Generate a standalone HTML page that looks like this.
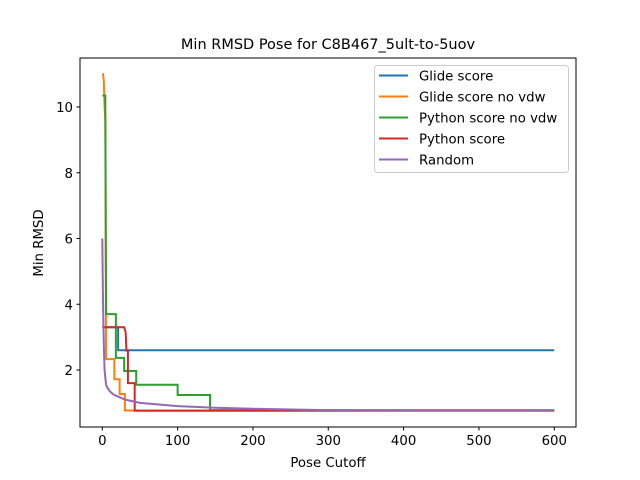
<!DOCTYPE html>
<html><head><meta charset="utf-8"><style>
body{margin:0;background:#fff}
svg{display:block;font-family:"DejaVu Sans","Liberation Sans",sans-serif}
</style></head><body>
<svg id="chart" width="640" height="480">
<rect x="0" y="0" width="640" height="480" fill="#fff"/>
<text x="328" y="49" text-anchor="middle" font-size="14.5">Min RMSD Pose for C8B467_5ult-to-5uov</text>
<g id="plot"></g>
<rect x="80" y="58" width="496" height="369" fill="none" stroke="#000" stroke-width="1"/>
<g id="ticks"></g>
<text x="328" y="467" text-anchor="middle" font-size="13.3">Pose Cutoff</text>
<text x="43" y="243" text-anchor="middle" font-size="13.3" transform="rotate(-90 43 243)">Min RMSD</text>
<g id="legend"></g>
</svg>
<script>
const xTicks=[0,100,200,300,400,500,600];
const yTicks=[2,4,6,8,10];
const seriesNames=["Glide score","Glide score no vdw","Python score no vdw","Python score","Random"];
const seriesColors=["#1f77b4","#ff7f0e","#2ca02c","#d62728","#9467bd"];
const glideX=[0,21,21,600];
const glideY=[3.3,3.3,2.6,2.6];
const glideNoVdwX=[0,1,2,3,4,5,16,16,23,23,30,30,600];
const glideNoVdwY=[11,11,10.8,10.0,9.6,2.33,2.33,1.72,1.72,1.27,1.27,0.77,0.77];
const pyNoVdwX=[0,4,5,18,18,29,29,45,45,100,100,143,143,600];
const pyNoVdwY=[10.35,10.35,3.7,3.7,2.37,2.37,1.97,1.97,1.55,1.55,1.24,1.24,0.78,0.78];
const pyX=[0,29,31,32,34,34,43,43,600];
const pyY=[3.3,3.3,3.15,2.59,2.59,1.6,1.6,0.76,0.76];
const randX=[0,1,2,3,5,7,10,15,20,30,40,50,75,100,150,200,250,300,400,600];
const randY=[6,4,2.8,2.0,1.55,1.45,1.35,1.25,1.2,1.1,1.05,1.0,0.95,0.9,0.85,0.82,0.8,0.78,0.77,0.77];
const xs=v=>102.3+v*0.7533;
const ys=v=>435.75-v*32.875;
const NS="http://www.w3.org/2000/svg";
function mk(tag,attrs,parent){const e=document.createElementNS(NS,tag);for(const k in attrs)e.setAttribute(k,attrs[k]);parent.appendChild(e);return e;}
const ticks=document.getElementById('ticks');
xTicks.forEach(t=>{
 const l=mk('line',{x1:xs(t),x2:xs(t),y1:427,y2:430.5,stroke:'#000'},ticks);
 
 
 const tx=mk('text',{x:xs(t),y:445,'text-anchor':'middle','font-size':'13.3'},ticks);
 tx.textContent=t;
 
 
});
yTicks.forEach(t=>{
 const l=mk('line',{x1:76.5,x2:80,y1:ys(t),y2:ys(t),stroke:'#000'},ticks);
 
 
 const tx=mk('text',{x:73,y:ys(t)+5,'text-anchor':'end','font-size':'13.3'},ticks);
 tx.textContent=t;
 
 
});
const plot=document.getElementById('plot');
const data=[[glideX,glideY],[glideNoVdwX,glideNoVdwY],[pyNoVdwX,pyNoVdwY],[pyX,pyY],[randX,randY]];
const lineNames=['glide-score-line','glide-score-no-vdw-line','python-score-no-vdw-line','python-score-line','random-line'];
data.forEach((d,i)=>{
 const pts=d[0].map((x,j)=>xs(x).toFixed(2)+','+ys(d[1][j]).toFixed(2)).join(' ');
 const p=mk('polyline',{points:pts,fill:'none',stroke:seriesColors[i],'stroke-width':2},plot);
 
 
});
const lg=document.getElementById('legend');
const box=mk('rect',{x:374.5,y:65.5,width:194,height:107,rx:3,fill:'#fff','fill-opacity':0.8,stroke:'#ccc'},lg);


seriesNames.forEach((n,i)=>{
 const y=75.5+i*21;
 const l=mk('line',{x1:379,x2:408,y1:y,y2:y,stroke:seriesColors[i],'stroke-width':2},lg);
 
 
 const t=mk('text',{x:419,y:y+5,'font-size':'13.3'},lg);
 t.textContent=n;
 
 
});
</script>
</body></html>
